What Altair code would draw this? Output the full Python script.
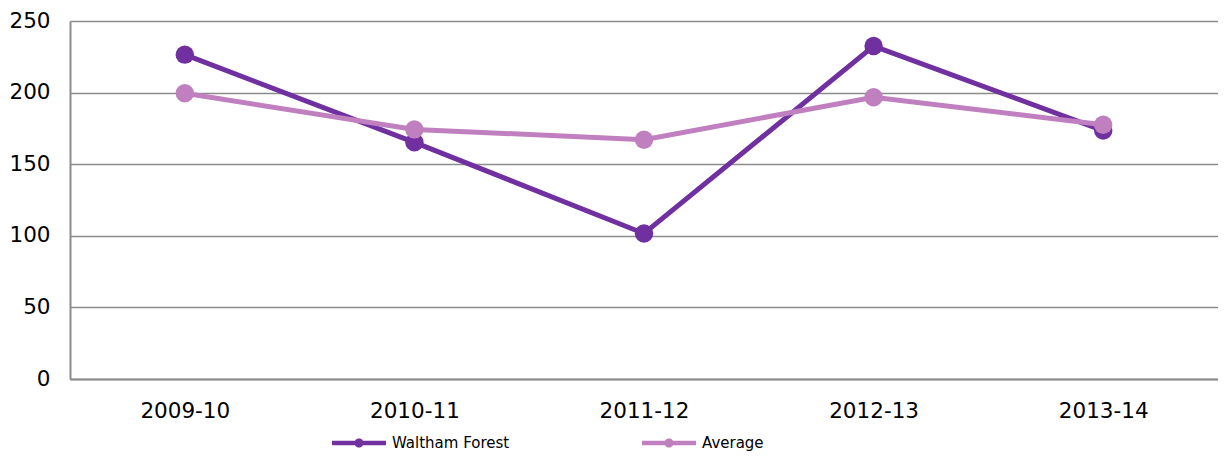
import altair as alt
import pandas as pd

periods = ["2009-10", "2010-11", "2011-12", "2012-13", "2013-14"]
waltham = [226.5, 165.3, 101.6, 232.5, 173.5]
average = [199.5, 174.3, 167.1, 196.8, 177.6]
series_names = ["Waltham Forest", "Average"]
series_colors = ["#7030A0", "#C080C0"]

rows = []
for name, vals in zip(series_names, [waltham, average]):
    for p, v in zip(periods, vals):
        rows.append({"period": p, "value": v, "series": name})
df = pd.DataFrame(rows)

FONT = "DejaVu Sans"
# horizontal bar plus a small dot, both drawn clockwise so the overlap stays filled
legend_path = ("M-1,-0.08H1V0.08H-1Z"
               "M0.17,0A0.17,0.17,0,1,1,-0.17,0A0.17,0.17,0,1,1,0.17,0Z")

x = alt.X("period:N", sort=periods, title=None,
          scale=alt.Scale(type="point", padding=0.5),
          axis=alt.Axis(labelAngle=0, labelFontSize=21.5, labelFont=FONT, labelColor="#000000",
                        ticks=False, domainColor="#8c8c8c", domainWidth=2, labelPadding=21,
                        grid=False))
y = alt.Y("value:Q", title=None,
          scale=alt.Scale(domain=[0, 250], nice=False),
          axis=alt.Axis(values=[0, 50, 100, 150, 200, 250], labelFontSize=21.5, labelFont=FONT,
                        labelColor="#000000", ticks=False, domainColor="#8c8c8c", domainWidth=2,
                        gridColor="#8c8c8c", gridWidth=1.5, labelPadding=20))
color = alt.Color("series:N", sort=series_names,
                  scale=alt.Scale(domain=series_names, range=series_colors),
                  legend=alt.Legend(title=None, orient="none", direction="horizontal",
                                    legendX=262, legendY=395,
                                    symbolType=legend_path, symbolSize=2916,
                                    symbolStrokeWidth=0, labelFontSize=15, labelFont=FONT,
                                    labelColor="#000000", labelOffset=6, columnPadding=132))

layers = []
for name in series_names:
    base = alt.Chart(df).transform_filter(alt.datum.series == name)
    layers.append(base.mark_line(strokeWidth=5).encode(x=x, y=y, color=color))
    layers.append(base.mark_point(filled=True, size=340, opacity=1).encode(x=x, y=y, color=color))

chart = alt.layer(*layers).properties(
    width=1148, height=358,
    padding={"left": 0, "right": 0, "top": 2, "bottom": 0},
).configure_view(stroke=None).configure(background="#ffffff")

chart.save("out.html", embed_options={"renderer": "svg", "actions": False})
